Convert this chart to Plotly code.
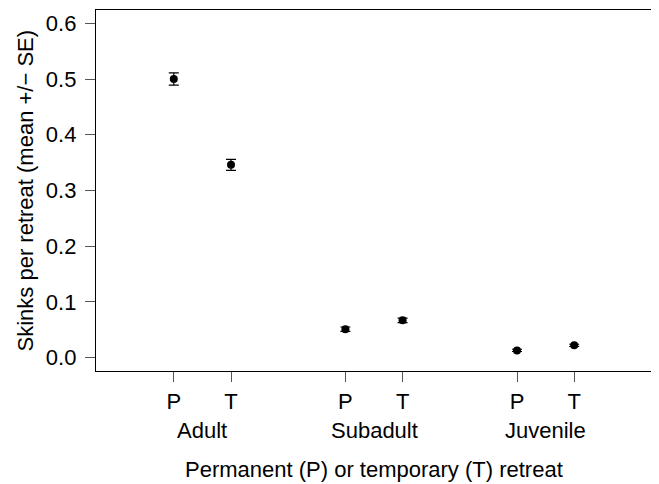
import plotly.graph_objects as go

# ---- data ----
groups = ["Adult", "Subadult", "Juvenile"]
retreat_labels = ["P", "T", "P", "T", "P", "T"]
x_pos = [1, 2, 4, 5, 7, 8]
means = [0.500, 0.346, 0.051, 0.067, 0.013, 0.022]
se = [0.011, 0.010, 0.004, 0.004, 0.002, 0.002]
y_ticks = [0.0, 0.1, 0.2, 0.3, 0.4, 0.5, 0.6]

FONT = "Liberation Sans, Arial, sans-serif"
FS = 22

fig = go.Figure()
fig.add_trace(go.Scatter(
    x=x_pos, y=means, mode="markers",
    marker=dict(color="black", size=8, symbol="circle"),
    error_y=dict(type="data", array=se, visible=True, color="black",
                 thickness=1.2, width=5),
    showlegend=False,
))

# group labels centred under each pair
for i, g in enumerate(groups):
    cx = (x_pos[2 * i] + x_pos[2 * i + 1]) / 2
    fig.add_annotation(x=cx, y=0, xref="x", yref="paper", text=g,
                       showarrow=False, yanchor="middle", yshift=-59,
                       font=dict(family=FONT, size=FS, color="black"))

fig.add_annotation(x=0.5, y=0, xref="paper", yref="paper",
                   text="Permanent (P) or temporary (T) retreat",
                   showarrow=False, yanchor="middle", yshift=-98,
                   font=dict(family=FONT, size=FS, color="black"))

fig.add_annotation(x=0, y=0.5, xref="paper", yref="paper",
                   text="Skinks per retreat (mean +/\u2212 SE)",
                   textangle=-90, showarrow=False, xanchor="center",
                   xshift=-71,
                   font=dict(family=FONT, size=FS, color="black"))

fig.update_layout(
    width=651, height=476,
    margin=dict(l=88, r=7, t=2, b=112.5),
    paper_bgcolor="white", plot_bgcolor="white",
    font=dict(family=FONT, size=FS, color="black"),
    xaxis=dict(range=[-0.36, 9.36], tickvals=x_pos, ticktext=retreat_labels,
               showgrid=False, zeroline=False, showline=True, mirror=True,
               linecolor="black", linewidth=1.3, ticks="outside", ticklen=10,
               tickcolor="#555555", tickwidth=1, ticklabelstandoff=0),
    yaxis=dict(range=[-0.024, 0.624], tickvals=y_ticks,
               ticktext=[f"{v:.1f}" for v in y_ticks],
               showgrid=False, zeroline=False, showline=True, mirror=True,
               linecolor="black", linewidth=1.3, ticks="outside", ticklen=10,
               tickcolor="#555555", tickwidth=1, ticklabelstandoff=4),
)

fig.write_html("out.html")
